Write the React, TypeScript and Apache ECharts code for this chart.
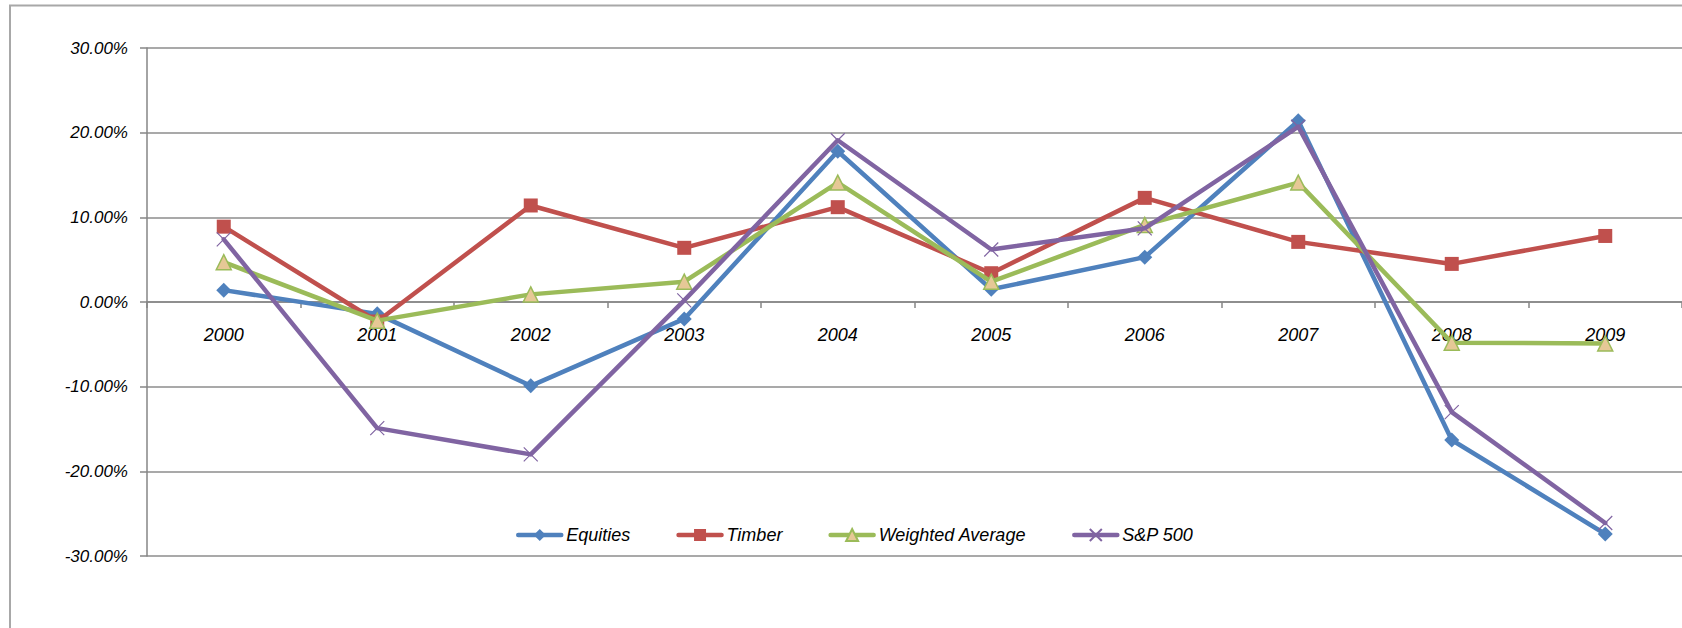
import React, { useEffect, useRef } from "react";
import * as echarts from "echarts";

const years = ["2000", "2001", "2002", "2003", "2004", "2005", "2006", "2007", "2008", "2009"];
const equities = [1.4, -1.4, -9.9, -2.0, 17.8, 1.5, 5.3, 21.4, -16.3, -27.4];
const timber = [8.9, -2.3, 11.4, 6.4, 11.2, 3.4, 12.3, 7.1, 4.5, 7.8];
const weightedAverage = [4.7, -2.2, 0.9, 2.4, 14.1, 2.4, 9.1, 14.1, -4.8, -4.9];
const sp500 = [7.4, -14.9, -18.0, 0.2, 19.1, 6.2, 8.7, 20.7, -13.0, -26.1];
const yTicks = { min: -30, max: 30, interval: 10 };

const seriesNames = ["Equities", "Timber", "Weighted Average", "S&P 500"];
const seriesColors = ["#4F81BD", "#C0504D", "#9BBB59", "#8064A2"];

export default function App() {
  const ref = useRef<HTMLDivElement>(null);
  useEffect(() => {
    if (!ref.current) return;
    const chart = echarts.init(ref.current, null, { renderer: "svg" });
    const font = "'Liberation Sans', Arial, sans-serif";
    const datas = [equities, timber, weightedAverage, sp500];
    const symbols = ["diamond", "rect", "triangle", "path://M0,0L10,10M10,0L0,10"];
    const symbolSizes = [15, 14, 15, 14];
    const gridTop = 48;
    const gridHeight = 508;
    // distance from grid bottom to the zero line, derived from the axis range
    const zeroOffset = -(gridHeight * (0 - yTicks.min)) / (yTicks.max - yTicks.min);
    chart.setOption({
      animation: false,
      backgroundColor: "#ffffff",
      graphic: [
        {
          type: "rect",
          shape: { x: 10, y: 5.5, width: 1800, height: 800 },
          style: { fill: "none", stroke: "#a8a8a8", lineWidth: 2 },
          silent: true,
        },
      ],
      grid: { left: 147, top: gridTop, width: 1540, height: gridHeight, containLabel: false },
      legend: {
        left: 511,
        top: 521,
        itemWidth: 43,
        itemHeight: 15,
        itemGap: 46,
        data: seriesNames,
        lineStyle: { width: 4.5 },
        textStyle: { fontFamily: font, fontStyle: "italic", fontSize: 18, color: "#000" },
      },
      xAxis: {
        type: "category",
        data: years,
        boundaryGap: true,
        position: "bottom",
        offset: zeroOffset,
        axisLine: { onZero: false, lineStyle: { color: "#868686", width: 1.5 } },
        axisTick: { show: true, length: 6, lineStyle: { color: "#868686", width: 1.5 } },
        axisLabel: {
          margin: 24,
          fontFamily: font,
          fontStyle: "italic",
          fontSize: 18,
          color: "#000",
          interval: 0,
        },
        splitLine: { show: false },
        z: 1,
      },
      yAxis: {
        type: "value",
        min: yTicks.min,
        max: yTicks.max,
        interval: yTicks.interval,
        axisLine: { show: true, lineStyle: { color: "#868686", width: 1.5 } },
        axisTick: { show: true, length: 7, lineStyle: { color: "#868686", width: 1.5 } },
        axisLabel: {
          margin: 19,
          fontFamily: font,
          fontStyle: "italic",
          fontSize: 17,
          color: "#000",
          formatter: (v: number) => v.toFixed(2) + "%",
        },
        splitLine: { show: true, lineStyle: { color: "#8c8c8c", width: 1.5 } },
      },
      series: seriesNames.map((name, i) => ({
        name,
        type: "line",
        data: datas[i],
        symbol: symbols[i],
        symbolSize: symbolSizes[i],
        showAllSymbol: true,
        lineStyle: { color: seriesColors[i], width: 4.5, join: "round", cap: "round" },
        itemStyle:
          i === 2
            ? { color: "#E6C896", borderColor: "#9BBB59", borderWidth: 1.5 }
            : i === 3
            ? { color: "#8064A2", borderColor: "#8064A2", borderWidth: 1.2 }
            : { color: seriesColors[i], borderColor: seriesColors[i], borderWidth: 0 },
        z: 2 + i,
      })),
    });
    return () => chart.dispose();
  }, []);
  return (
    <div
      ref={ref}
      style={{ position: "absolute", left: 0, top: 0, width: 1682, height: 628 }}
    />
  );
}
